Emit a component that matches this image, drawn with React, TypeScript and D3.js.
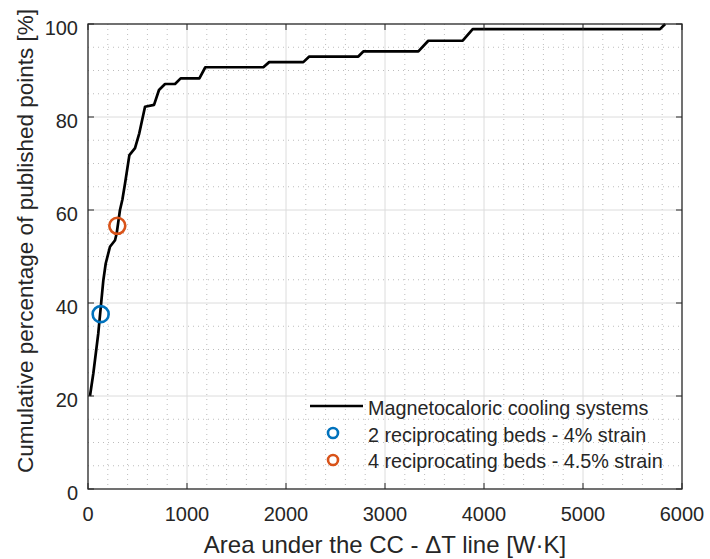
import React from "react";
import * as d3 from "d3";

// ---- data ----
const curveX = [20, 54, 104, 155, 179, 222, 273, 290, 323, 347, 374, 418, 475, 518, 576, 667, 717, 778, 879, 936, 1125, 1185, 1771, 1830, 2175, 2235, 2730, 2781, 3337, 3437, 3785, 3886, 5778, 5830];
const curveY = [20, 24.9, 33.5, 44.9, 48.5, 52.1, 53.5, 55, 60, 62.2, 65.7, 71.8, 73.3, 76.5, 82.2, 82.6, 85.8, 87.1, 87.1, 88.3, 88.3, 90.7, 90.7, 91.8, 91.8, 93.0, 93.0, 94.1, 94.1, 96.4, 96.4, 98.9, 98.9, 100];
const pointX = [128, 296];
const pointY = [37.6, 56.6];
const pointColors = ["#0072BD", "#D95319"];
const legendLabels = [
  "Magnetocaloric cooling systems",
  "2 reciprocating beds - 4% strain",
  "4 reciprocating beds - 4.5% strain",
];
const xTicks = [0, 1000, 2000, 3000, 4000, 5000, 6000];
const yTicks = [0, 20, 40, 60, 80, 100];
const xMinor = d3.range(0, 6001, 200);
const yMinor = d3.range(0, 101, 5);
const xLabel = "Area under the CC - \u0394T line [W\u00B7K]";
const yLabel = "Cumulative percentage of published points [%]";

const W = 710, H = 559;
const L = 88, R = 682, T = 24, B = 489;
const FONT = "'Liberation Sans', Arial, Helvetica, sans-serif";
const TXT = "#262626";

export default function App() {
  const x = d3.scaleLinear().domain([0, 6000]).range([L, R]);
  const y = d3.scaleLinear().domain([0, 100]).range([B, T]);
  const pts = curveX.map((v, i) => [v, curveY[i]] as [number, number]);
  const line = d3.line<[number, number]>().x(d => x(d[0])).y(d => y(d[1]));
  const tickLen = 6;

  return (
    <div style={{ position: "absolute", left: 0, top: 0 }}>
      <svg width={W} height={H} style={{ display: "block", background: "#fff" }}>
        <rect x={0} y={0} width={W} height={H} fill="#fff" />
        {/* minor grid */}
        <g stroke="#bdbdbd" strokeWidth={1} strokeDasharray="1,4">
          {xMinor.filter(v => v % 1000 !== 0).map(v => (
            <line key={"xm" + v} x1={x(v)} x2={x(v)} y1={T} y2={B} />
          ))}
          {yMinor.filter(v => v % 20 !== 0).map(v => (
            <line key={"ym" + v} x1={L} x2={R} y1={y(v)} y2={y(v)} />
          ))}
        </g>
        {/* major grid */}
        <g stroke="#dcdcdc" strokeWidth={1}>
          {xTicks.slice(1, -1).map(v => (
            <line key={"xg" + v} x1={x(v)} x2={x(v)} y1={T} y2={B} />
          ))}
          {yTicks.slice(1, -1).map(v => (
            <line key={"yg" + v} x1={L} x2={R} y1={y(v)} y2={y(v)} />
          ))}
        </g>
        {/* curve */}
        <path d={line(pts) || ""} fill="none" stroke="#000" strokeWidth={2.7} strokeLinejoin="round" />
        {/* points */}
        {pointX.map((v, i) => (
          <circle key={"p" + i} cx={x(v)} cy={y(pointY[i])} r={8} fill="none" stroke={pointColors[i]} strokeWidth={2.6} />
        ))}
        {/* axes box */}
        <rect x={L} y={T} width={R - L} height={B - T} fill="none" stroke={TXT} strokeWidth={1.3} />
        <g stroke={TXT} strokeWidth={1}>
          {xTicks.map(v => (
            <g key={"xt" + v}>
              <line x1={x(v)} x2={x(v)} y1={B} y2={B - tickLen} />
              <line x1={x(v)} x2={x(v)} y1={T} y2={T + tickLen} />
            </g>
          ))}
          {yTicks.map(v => (
            <g key={"yt" + v}>
              <line x1={L} x2={L + tickLen} y1={y(v)} y2={y(v)} />
              <line x1={R} x2={R - tickLen} y1={y(v)} y2={y(v)} />
            </g>
          ))}
        </g>
        {/* tick labels */}
        <g fontFamily={FONT} fontSize={20} fill={TXT}>
          {xTicks.map(v => (
            <text key={"xl" + v} x={x(v)} y={521} textAnchor="middle">{v}</text>
          ))}
          {yTicks.map(v => (
            <text key={"yl" + v} x={78} y={y(v) + 11} textAnchor="end">{v}</text>
          ))}
        </g>
        {/* axis labels */}
        <text x={385} y={553} textAnchor="middle" fontFamily={FONT} fontSize={24} fill={TXT}>{xLabel}</text>
        <text transform={`translate(33,241) rotate(-90)`} textAnchor="middle" fontFamily={FONT} fontSize={22.5} fill={TXT}>{yLabel}</text>
        {/* legend */}
        <g fontFamily={FONT} fontSize={19.8} fill={TXT}>
          <line x1={310} x2={363} y1={406} y2={406} stroke="#000" strokeWidth={2.7} />
          <text x={368} y={415}>{legendLabels[0]}</text>
          <circle cx={333} cy={433} r={5} fill="none" stroke={pointColors[0]} strokeWidth={2.6} />
          <text x={368} y={441.5}>{legendLabels[1]}</text>
          <circle cx={333} cy={460} r={5} fill="none" stroke={pointColors[1]} strokeWidth={2.6} />
          <text x={368} y={467.5}>{legendLabels[2]}</text>
        </g>
      </svg>
    </div>
  );
}
